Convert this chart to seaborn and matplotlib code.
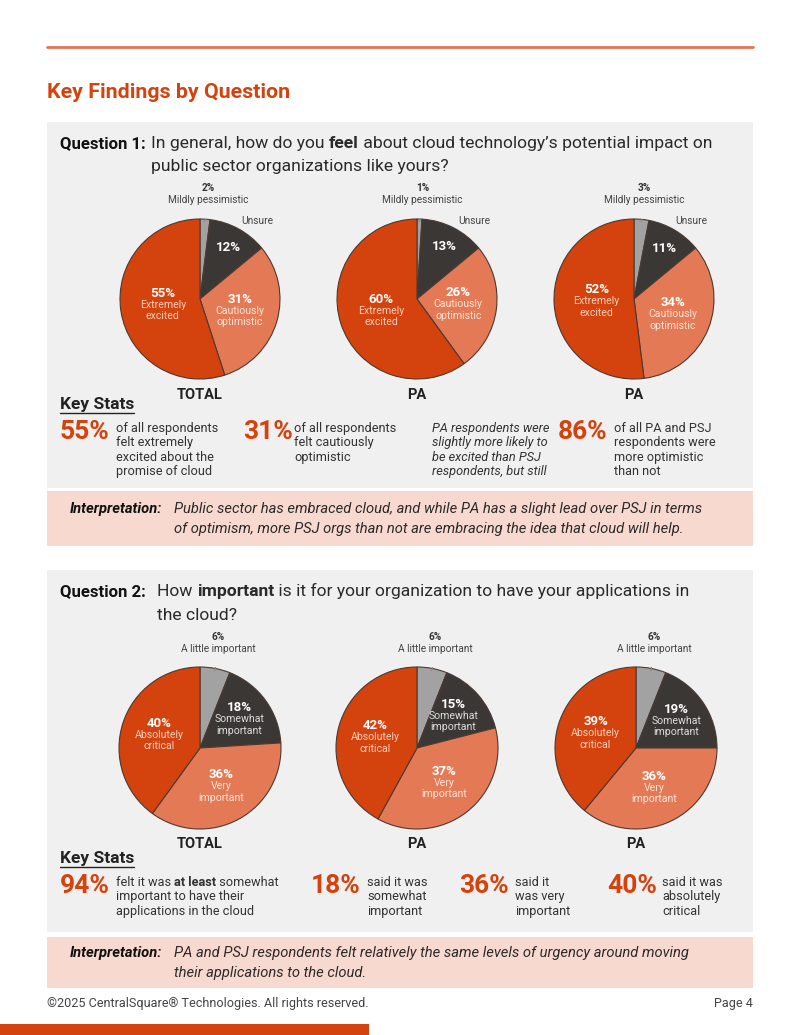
import numpy as np
import matplotlib
matplotlib.use("Agg")
import matplotlib.pyplot as plt
from matplotlib.patches import Rectangle
import seaborn as sns

# ---- data ----
groups = ["TOTAL", "PA", "PA"]

q1_names = ["Mildly pessimistic", "Unsure", "Cautiously\noptimistic", "Extremely\nexcited"]
q1_total = [2, 12, 31, 55]
q1_pa = [1, 13, 26, 60]
q1_pa_2 = [3, 11, 34, 52]

q2_names = ["A little important", "Somewhat\nimportant", "Very\nimportant", "Absolutely\ncritical"]
q2_total = [6, 18, 36, 40]
q2_pa = [6, 15, 37, 42]
q2_pa_2 = [6, 19, 36, 39]

q1_stat_nums = ["55%", "31%", "", "86%"]
q1_stat_text = [
    ["of all respondents", "felt extremely", "excited about the", "promise of cloud"],
    ["of all respondents", "felt cautiously", "optimistic"],
    ["PA respondents were", "slightly more likely to", "be excited than PSJ", "respondents, but still"],
    ["of all PA and PSJ", "respondents were", "more optimistic", "than not"],
]
q2_stat_nums = ["94%", "18%", "36%", "40%"]
q2_stat_text = [
    ["felt it was **at least** somewhat", "important to have their", "applications in the cloud"],
    ["said it was", "somewhat", "important"],
    ["said it", "was very", "important"],
    ["said it was", "absolutely", "critical"],
]

# ---- style ----
sns.set_theme(style="white")
plt.rcParams["font.family"] = ["Roboto", "DejaVu Sans"]
pie_colors = sns.color_palette(["#a2a2a2", "#3b3734", "#e47a55", "#d4420d"])
name_colors = ["#555555", "#dcdcdc", "#fde3d6", "#fbd0bd"]
ORANGE = "#d4420d"
TXT = "#2a2a2a"

W, H = 800, 1035
fig = plt.figure(figsize=(8, 10.35), dpi=100)
bg = fig.add_axes([0, 0, 1, 1])
bg.set_xlim(0, W)
bg.set_ylim(H, 0)
bg.axis("off")
renderer = fig.canvas.get_renderer()


def text_width(s, **kw):
    t = bg.text(0, 0, s + "|", **kw)
    w1 = t.get_window_extent(renderer).width
    t.remove()
    t = bg.text(0, 0, "|", **kw)
    w2 = t.get_window_extent(renderer).width
    t.remove()
    return w1 - w2


def rich(x, y, s, size, color=TXT, style="normal", base="normal", yref=None):
    # y is the visual middle of the line; draw on a shared baseline
    yb = y + 0.36 * (yref or size) * 100 / 72
    for k, part in enumerate(s.split("**")):
        if not part:
            continue
        kw = dict(fontsize=size, fontweight="bold" if k % 2 else base, fontstyle=style, color=color)
        bg.text(x, yb, part, va="baseline", ha="left", **kw)
        x += text_width(part, **kw)
    return x


# panels and page decoration
bg.plot([47, 753], [47, 47], color="#e27657", lw=2)
bg.text(47, 92, "Key Findings by Question", fontsize=15.4, fontweight="bold", color=ORANGE, va="center")
for y0, h, c in [(122, 366, "#f0f0f0"), (491, 55, "#f8d9cf"), (570, 362, "#f0f0f0"), (937, 51, "#f8d9cf")]:
    bg.add_patch(Rectangle((47, y0), 706, h, color=c, lw=0))
bg.add_patch(Rectangle((0, 1024), 369, 11, color=ORANGE, lw=0))

# questions
QS = 12.6
rich(60, 142, "**Question 1:**", 12.1, "#111111", yref=QS)
rich(151, 142, "In general, how do you **feel** about cloud technology\u2019s potential impact on", QS)
rich(151, 165, "public sector organizations like yours?", QS)
rich(60, 590, "**Question 2:**", 12.1, "#111111", yref=QS)
rich(157, 590, "How **important** is it for your organization to have your applications in", QS)
rich(157, 614, "the cloud?", QS)


def draw_pie(cx, cy, r, values, names, fracs, name_inside, group):
    ax = fig.add_axes([(cx - r) / W, 1 - (cy + r) / H, 2 * r / W, 2 * r / H])
    wedges, _ = ax.pie(values, startangle=90, counterclock=False, colors=pie_colors,
                       wedgeprops=dict(edgecolor="#4b3a33", linewidth=0.8))
    ax.set_xlim(-1, 1)
    ax.set_ylim(-1, 1)
    ax.set_aspect("auto")
    ax.axis("off")
    u = 1 / r
    # small slice, labelled above with a leader line
    m = np.deg2rad((wedges[0].theta1 + wedges[0].theta2) / 2)
    lx = np.cos(m) + 3 * u
    ax.text(lx, 111 * u, f"{values[0]}%", fontsize=7.2, fontweight="bold", color="#333333",
            ha="center", va="center")
    ax.text(lx, 99 * u, names[0], fontsize=7.3, color="#444444", ha="center", va="center")
    ax.plot([lx, np.cos(m) * 0.97], [93 * u, np.sin(m) * 0.97], color="#8a8a8a", lw=0.8)
    if not name_inside:
        ax.text(0.71, 0.97, names[1], fontsize=7.3, color="#444444", ha="center", va="center")
    for i in range(1, 4):
        m = np.deg2rad((wedges[i].theta1 + wedges[i].theta2) / 2)
        x, y = fracs[i] * np.cos(m), fracs[i] * np.sin(m)
        lines = [f"{values[i]}%"]
        if i > 1 or name_inside:
            lines += names[i].split("\n")
        top = y + (len(lines) - 1) / 2 * 11.5 * u
        for j, line in enumerate(lines):
            ax.text(x, top - j * 11.5 * u, line, ha="center", va="center",
                    fontsize=9.5 if j == 0 else 7.6,
                    fontweight="bold" if j == 0 else "normal",
                    color="white" if j == 0 else name_colors[i])
    ax.text(0, -96 * u, group, fontsize=10.5, fontweight="bold", color="#222222", ha="center", va="center")


q1_fracs = [None, 0.74, 0.52, 0.47]
q2_fracs = [None, 0.6, 0.54, 0.53]
for cx, vals, g in zip([200, 417, 634], [q1_total, q1_pa, q1_pa_2], groups):
    draw_pie(cx, 299, 80, vals, q1_names, q1_fracs, False, g)
for cx, vals, g in zip([200, 417, 636], [q2_total, q2_pa, q2_pa_2], groups):
    draw_pie(cx, 748, 81, vals, q2_names, q2_fracs, True, g)


def key_stats(y, nums, texts, num_x, text_x, italic_idx=()):
    t = bg.text(60, y, "Key Stats", fontsize=12.5, fontweight="bold", color="#222222", va="center")
    w = t.get_window_extent(renderer).width
    bg.plot([60, 60 + w], [y + 9, y + 9], color="#222222", lw=1)
    y0 = y + 23
    for k, (n, lines) in enumerate(zip(nums, texts)):
        if n:
            bg.text(num_x[k], y0 + 5, n, fontsize=19, fontweight="bold", color=ORANGE, va="center")
        for j, line in enumerate(lines):
            rich(text_x[k], y0 + j * 14.6, line, 9.2, "#333333",
                 style="italic" if k in italic_idx else "normal")


key_stats(404, q1_stat_nums, q1_stat_text, [60, 243, None, 558], [116, 294, 432, 614], italic_idx=(2,))
key_stats(858, q2_stat_nums, q2_stat_text, [60, 311, 459, 607], [116, 367, 515, 662])

# interpretations
IS = 10.6
rich(70, 508, "**Interpretation:**", IS, "#111111", style="italic")
rich(174, 508, "Public sector has embraced cloud, and while PA has a slight lead over PSJ in terms", IS, style="italic")
rich(174, 528, "of optimism, more PSJ orgs than not are embracing the idea that cloud will help.", IS, style="italic")
rich(70, 952, "**Interpretation:**", IS, "#111111", style="italic")
rich(174, 952, "PA and PSJ respondents felt relatively the same levels of urgency around moving", IS, style="italic")
rich(174, 972, "their applications to the cloud.", IS, style="italic")

# footer
bg.text(47, 1003, "\u00a92025 CentralSquare\u00ae Technologies. All rights reserved.", fontsize=9.1,
        color="#444444", va="center")
bg.text(753, 1003, "Page 4", fontsize=9.1, color="#444444", va="center", ha="right")

fig.savefig("out.png", dpi=100)
